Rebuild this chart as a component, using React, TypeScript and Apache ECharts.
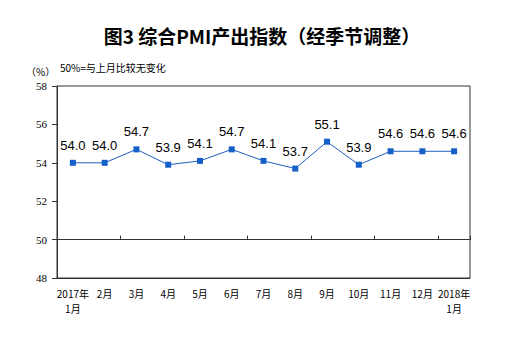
import React, { useEffect, useRef } from "react";
import * as echarts from "echarts";

const categories = ["2017年\n1月", "2月", "3月", "4月", "5月", "6月", "7月", "8月", "9月", "10月", "11月", "12月", "2018年\n1月"];
const values = [54.0, 54.0, 54.7, 53.9, 54.1, 54.7, 54.1, 53.7, 55.1, 53.9, 54.6, 54.6, 54.6];
const yMin = 48;
const yMax = 58;
const yInterval = 2;
const baseline = 50;
const titleText = "图3 综合PMI产出指数（经季节调整）";
const unitText = "（%）";
const noteText = "50%=与上月比较无变化";

export default function App() {
  const ref = useRef<HTMLDivElement>(null);
  useEffect(() => {
    if (!ref.current) return;
    const chart = echarts.init(ref.current, null, { renderer: "svg" });
    const gridTop = 86;
    const gridBottom = 65;
    const plotH = 343 - gridTop - gridBottom;
    const baseOffset = -((baseline - yMin) / (yMax - yMin)) * plotH;
    chart.setOption({
      animation: false,
      backgroundColor: "#fff",
      title: {
        text: titleText,
        left: "center",
        top: 21,
        textStyle: { fontFamily: "Noto Sans CJK SC", fontSize: 19, fontWeight: "bold", color: "#000" },
      },
      graphic: [
        { type: "text", left: 26, top: 66, style: { text: unitText, font: "10px 'Noto Sans CJK SC'", fill: "#000" } },
        { type: "text", left: 60, top: 62, style: { text: noteText, font: "10px 'Noto Sans CJK SC'", fill: "#000" } },
      ],
      grid: {
        left: 57,
        right: 54,
        top: gridTop,
        bottom: gridBottom,
        show: true,
        borderColor: "#333",
        borderWidth: 1,
      },
      xAxis: [
        {
          type: "category",
          data: categories,
          boundaryGap: true,
          axisLine: { show: true, lineStyle: { color: "#333" } },
          axisTick: { show: false },
          axisLabel: { color: "#000", fontSize: 10, fontFamily: "Noto Sans CJK SC", margin: 8, lineHeight: 15, interval: 0 },
        },
        {
          type: "category",
          data: categories,
          position: "bottom",
          offset: baseOffset,
          boundaryGap: true,
          axisLine: { show: true, lineStyle: { color: "#333", width: 1 } },
          axisTick: { show: true, inside: true, length: 4, lineStyle: { color: "#333" } },
          axisLabel: { show: false },
        },
      ],
      yAxis: {
        type: "value",
        min: yMin,
        max: yMax,
        interval: yInterval,
        axisLine: { show: true, lineStyle: { color: "#333" } },
        axisTick: { show: true, length: 5, lineStyle: { color: "#333" } },
        axisLabel: { color: "#000", fontSize: 11, fontFamily: "Liberation Serif", margin: 10 },
        splitLine: { show: false },
      },
      series: [
        {
          type: "line",
          data: values,
          xAxisIndex: 0,
          symbol: "rect",
          symbolSize: 6,
          itemStyle: { color: "#1560c8" },
          lineStyle: { color: "#1f5fbf", width: 1 },
          label: {
            show: true,
            position: "top",
            distance: 8,
            formatter: (p: any) => p.value.toFixed(1),
            fontFamily: "Liberation Sans",
            fontSize: 13,
            color: "#000",
          },
        },
      ],
    });
    return () => chart.dispose();
  }, []);
  return <div ref={ref} style={{ width: 524, height: 343, position: "absolute", left: 0, top: 0 }} />;
}
